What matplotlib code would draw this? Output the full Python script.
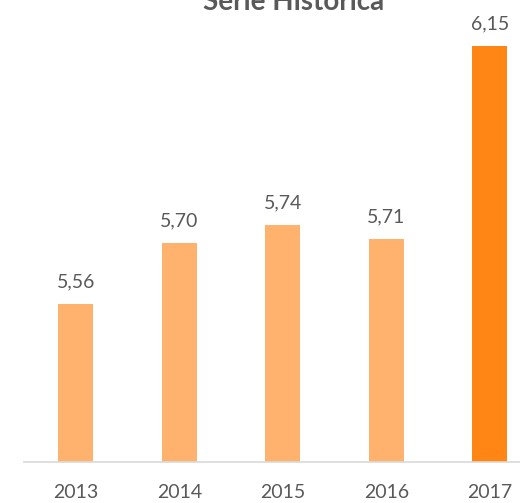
import matplotlib.pyplot as plt

years = ["2013", "2014", "2015", "2016", "2017"]
values = [5.56, 5.70, 5.74, 5.71, 6.15]
labels = ["5,56", "5,70", "5,74", "5,71", "6,15"]

light = "#FFB26E"
dark = "#FF8514"
text_gray = "#595959"

plt.rcParams['font.family'] = ['Lato', 'DejaVu Sans']

W, H = 520, 503
fig = plt.figure(figsize=(W / 100, H / 100), dpi=100)
# axes spans a bit past the right edge, the last slot is clipped
ax = fig.add_axes([24 / W, (H - 462) / H, 517.5 / W, 462 / H])

colors = [light] * (len(years) - 1) + [dark]
x = range(len(years))
ax.bar(x, values, width=0.34, color=colors, zorder=2)

ax.set_xlim(-0.5, len(years) - 0.5)
ax.set_ylim(5.2, 5.2 + 462 / 438)

for xi, v, lab in zip(x, values, labels):
    ax.annotate(lab, (xi, v), xytext=(0, 12), textcoords="offset points",
                ha="center", va="baseline", fontsize=14, color=text_gray)

ax.set_xticks(list(x))
ax.set_xticklabels(years, fontsize=14, color=text_gray)
ax.tick_params(axis="x", length=0, pad=16)
ax.set_yticks([])

for side in ["top", "right", "left"]:
    ax.spines[side].set_visible(False)
ax.spines["bottom"].set_color("#D9D9D9")
ax.spines["bottom"].set_linewidth(1.2)

fig.text(294 / W, 1 - 10 / H, "Série Histórica", ha="center", va="baseline",
         fontsize=20, fontweight="bold", color=text_gray)

fig.savefig("out.png", dpi=100)
